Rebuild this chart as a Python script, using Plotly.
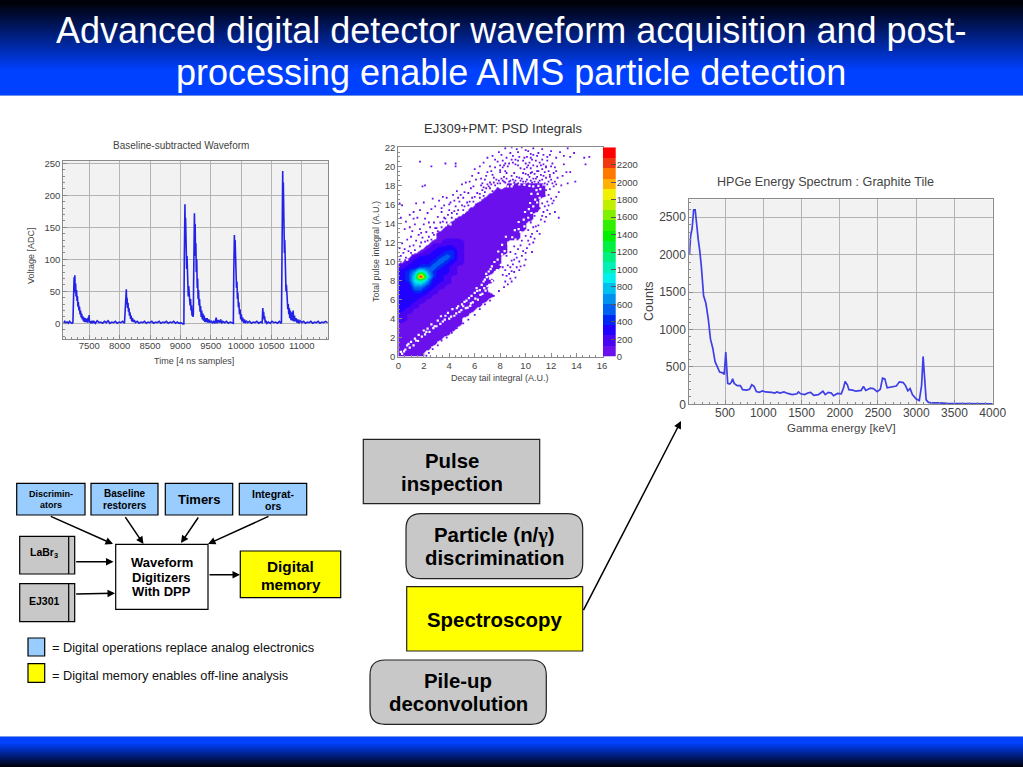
import plotly.graph_objects as go

W, H = 1023, 767
FONT = "Liberation Sans"

# ---------- Waveform data (time in samples, voltage in ADC) ----------
wave_t = [7075,7095,7115,7135,7155,7175,7195,7215,7230,7235,7240,7250,7258,7262,7268,7275,7282,7290,7298,7305,7313,7320,7330,7338,7348,7356,7366,7375,7385,7395,7405,7415,7425,7435,7445,7455,7470,7480,7490,7497,7503,7515,7530,7545,7560,7575,
          7600,7630,7660,7690,7720,7750,7780,7810,7840,7870,7900,7930,7960,7990,8020,8050,8080,8092,8098,8104,8110,8116,8122,8130,8138,8146,8154,8162,8170,8180,8190,8200,8212,8225,8240,8260,
          8290,8320,8350,8380,8410,8440,8470,8500,8530,8560,8590,8620,8650,8680,8710,8740,8770,8800,8830,8860,8890,8920,8950,8980,9010,9040,9058,9065,9070,9076,9080,9086,9092,9098,9104,9110,9118,9125,9130,9138,9145,9152,9160,9168,9176,9184,9192,9200,9208,9214,
          9218,9225,9232,9238,9244,9250,9256,9262,9270,9278,9285,9292,9300,9308,9316,9325,9333,9343,9352,9362,9372,9382,9392,9402,9412,9425,9440,9455,9470,9490,9510,9530,9550,9570,9590,9605,9625,9645,9665,9680,9700,9730,9760,9790,9820,9850,9873,
          9880,9885,9890,9895,9902,9910,9917,9925,9933,9940,9948,9956,9964,9974,9984,9994,10005,10016,10027,10040,10055,10070,10085,10110,10140,10170,10200,10230,10260,10290,10320,10348,10352,10358,10364,10372,10380,10388,10398,10410,10425,10450,10480,10510,10540,10570,10600,10630,10665,
          10675,10680,10686,10690,10696,10702,10708,10714,10720,10727,10733,10740,10747,10754,10762,10770,10778,10786,10794,10802,10812,10822,10834,10846,10858,10868,10880,10890,10905,10920,10935,10950,10970,11000,11030,11060,11090,11120,11150,11180,11210,11240,11270,11300,11330,11360,11390,11425]
wave_v = [1,3,0,2,0,3,1,0,1,30,60,72,55,75,48,62,42,52,35,42,26,33,20,26,14,20,9,15,6,11,3,9,2,8,2,7,1,9,3,13,1,3,0,4,1,3,
          0,4,1,2,0,3,1,4,0,2,1,3,0,2,1,3,0,25,40,30,53,30,40,24,32,18,24,12,17,7,12,3,8,2,5,1,
          3,0,2,1,3,0,2,1,3,0,2,1,3,0,2,1,3,0,2,1,3,0,2,0,1,-1,-1,100,170,186,140,165,120,140,85,105,70,90,42,58,40,50,28,38,20,28,12,18,10,14,
          60,130,172,130,155,105,125,80,100,55,70,38,52,28,38,18,27,10,20,6,15,4,12,2,8,2,8,1,6,1,4,0,3,0,9,0,5,1,6,0,3,1,3,0,2,1,0,
          80,130,138,115,130,95,105,55,65,38,48,25,33,14,22,6,14,3,9,1,6,0,4,1,3,0,2,1,3,0,2,1,10,24,12,18,6,11,1,4,0,2,0,3,1,2,0,3,0,
          100,200,238,190,220,150,178,110,130,90,100,50,60,35,45,22,30,14,24,8,20,5,17,4,20,3,12,3,8,1,6,0,4,1,3,0,2,1,3,0,2,1,3,0,2,1,3,1]

# ---------- HPGe spectrum (keV, counts) ----------
spec_e = [35,50,70,90,110,130,150,170,190,220,250,280,310,340,370,400,430,470,490,510,525,535,560,580,600,620,660,700,730,780,820,850,880,910,950,990,1030,1070,1110,1150,1180,1220,1270,1320,1380,1440,1460,1490,1540,1590,1620,1660,1720,1780,1810,1850,1890,1920,1970,2020,2050,2070,2100,2120,2170,2210,2280,2310,2340,2400,2440,2490,2530,2560,2590,2620,2680,2740,2780,2830,2860,2890,2920,2950,3000,3040,3070,3090,3110,3130,3160,3200,3300,3400,3600,3800,4000]
spec_c = [2000,2250,2350,2600,2600,2350,2200,2050,1850,1450,1350,1150,870,750,570,500,430,420,400,700,420,280,270,290,340,280,250,250,195,190,200,260,240,170,160,180,165,165,160,150,165,150,165,145,130,140,165,140,130,155,160,120,130,175,130,160,150,115,145,140,220,305,260,195,190,175,185,240,185,215,210,170,200,350,340,220,235,245,300,290,250,180,210,130,70,50,250,640,350,60,25,20,20,12,8,8,5]

# ---------- PSD density map: rows top to bottom, y = 22 ... 0 in steps of 0.5 ----------
psd_levels = {".":0,"p":100,"q":200,"b":270,"m":430,"n":570,"c":680,"t":880,"g":1100,"R":2450}
psd_rows = [
"","","","","","","","",
".................pppppp",
"...............pppppppp",
"..............ppppppppp",
".............ppppppppp",
"............pppppppppp",
"...........ppppppppppp",
"..........ppppppppppp",
".........pppppppppppp",
"........pppppppppppp",
".......ppppppppppppp",
"......ppppppppppppp",
"......ppppppppppppp",
".....ppqqqppppppp",
"....pqbbbqppppppp",
"...pqbbmmqppppppp",
"..qbbbmnmqpppppp",
".qbbbmnmbqpppppp",
"qbbmmnmbqppppppp",
"bmcgcmbbqpppppp",
"bmtRtmbqpppppp",
"bmtgcbbqppppppp",
"bbccmbqppppppp",
"bbmmbqpppppppp",
"bbbbqpppppppppp",
"bbbqpppppppppp",
"bbqpppppppppp",
"bqpppppppppp",
"qpppppppppp",
"qppppppppp",
"pppppppppp",
"ppppppppp",
"pppppppp",
"ppppppp",
"pppppp",
"ppppp",
"pppp",
"pppp",
]
psd_y = [22 - 0.5 * i for i in range(len(psd_rows))]
psd_x = [0.25 + 0.5 * i for i in range(33)]
psd_z = [[psd_levels[c] for c in r.ljust(33, ".")] for r in psd_rows]

speck_pts = [(0.1,10.2),(0.2,10.6),(0.4,10.9),(0.1,11.4),(0.5,11.3),(0.3,11.9),(0.8,11.1),(0.9,11.6),(0.7,12.3),(0.2,14.6),(0.1,16.1),(0.3,15.9),(0.5,13.4),(1.0,12.6),(1.2,11.7),(1.4,12.2),(1.1,13.2),(1.6,12.8),(1.3,13.9),(1.7,13.4),(1.9,12.5),(1.2,15.2),(1.4,16.1),(1.7,15.4),(1.5,14.6),(2.0,13.9),(2.2,13.1),(2.4,12.6),(2.1,14.5),(2.5,13.6),(2.7,13.0),(2.3,15.1),(2.8,14.1),(3.0,13.5),(2.0,16.2),(2.6,15.5),(3.1,14.7),(3.3,14.1),(3.5,14.2),(2.9,15.8),(3.4,15.2),(3.7,14.5),(3.9,14.9),(3.2,16.4),(3.6,15.9),(4.0,15.4),(4.2,15.1),(4.4,15.3),(3.8,16.7),(4.1,16.2),(4.5,15.8),(4.7,15.4),(4.3,17.0),(4.8,16.3),(5.0,15.9),(5.2,15.8),(4.6,17.4),(5.1,16.7),(5.4,16.2),(5.6,16.3),(5.0,18.1),(5.5,17.2),(5.8,16.7),(6.0,16.8),(5.3,18.3),(6.2,17.2),(5.9,17.9),(6.4,17.1),(6.6,17.5),(6.1,18.6),(6.5,18.0),(6.9,17.7),(7.1,17.9),(6.3,19.3),(6.8,18.6),(7.3,18.1),(7.5,18.3),(7.0,19.4),(7.7,18.6),(7.4,19.1),(7.9,18.5),(8.1,18.7),(6.7,20.4),(7.2,20.0),(7.6,19.9),(8.0,19.4),(8.3,18.9),(7.8,20.5),(8.2,19.9),(8.5,19.3),
(8.0,19.6),(8.3,20.1),(8.7,20.3),(9.2,20.2),(9.6,19.8),(9.8,19.3),(9.5,18.8),(9.0,18.6),(8.5,18.7),(8.6,20.0),(9.0,20.4),(9.4,20.1),(9.9,19.7),(10.0,19.2),(9.7,18.7),(9.2,18.5),(8.8,18.5),(8.2,18.5),(9.8,18.4),(10.1,18.6),(10.4,18.5),(10.7,18.4),(11.0,18.3),(10.2,19.1),(10.7,19.2),(11.2,19.1),(11.5,19.4),(10.4,19.8),(10.9,20.0),(11.4,20.2),(12.0,20.0),(10.3,20.4),(10.8,20.6),(11.3,20.7),(11.8,19.5),(12.3,19.9),(10.1,21.0),(10.6,21.2),(9.5,21.0),(9.0,21.1),(8.5,20.9),(8.1,21.2),(7.4,21.1),(7.9,21.5),
(8.4,21.9),(8.9,22.0),(9.3,21.8),(9.7,22.0),(10.2,21.6),(10.6,21.9),(11.0,21.4),(11.3,21.8),(11.9,21.2),(12.4,20.9),(12.1,20.3),(12.7,21.5),(13.3,21.9),(13.0,21.1),(13.5,21.0),(13.8,21.4),(14.6,20.9),(14.7,20.2),(15.0,21.0),(13.2,19.4),(13.5,19.4),(13.9,18.4),(13.0,20.2),(12.9,19.0),(12.5,18.8),(13.3,18.2),
(11.4,17.9),(11.7,18.1),(12.0,18.6),(11.9,17.6),(12.2,17.9),(11.5,16.9),(11.7,16.3),(12.0,16.6),(12.4,16.8),(11.3,17.2),(11.6,17.5),(11.8,17.0),(12.6,17.3),(12.8,18.0),(11.1,15.6),(11.4,15.2),(11.7,15.4),(11.9,15.0),(12.3,15.2),(12.6,14.6),(11.2,14.4),(11.0,13.8),(10.9,13.2),(10.5,12.9),(10.7,12.4),(10.3,11.8),(10.5,11.0),(10.0,10.9),(10.0,10.2),(9.7,10.6),(9.9,9.6),(9.5,10.0),(9.3,9.4),(9.5,9.1),(9.1,8.9),(8.9,9.0),(8.7,8.7),(9.2,8.3),(8.8,8.2),(8.5,8.5),(8.4,7.9),(8.2,8.6),(8.6,9.6),(8.9,10.1),(8.5,10.6),(8.8,11.0),(9.1,11.6),(9.2,10.8),(9.4,11.3),(9.7,12.2),(10.0,12.7),(10.2,13.3),(10.4,14.1),(10.7,14.8),(10.9,15.3),(11.3,16.1),(9.0,9.7),(9.6,11.7),(10.1,14.4),(10.6,13.6),
# dense fringe along the upper edge of the band and the top right cloud
(0.2,9.8),(0.6,10.4),(1.0,10.9),(1.3,11.2),(1.7,11.6),(2.1,12.1),(2.3,12.2),(2.8,12.8),(3.1,13.2),(3.4,13.6),(3.8,14.1),(4.2,14.6),(4.6,15.0),(5.1,15.4),(5.5,15.9),(5.9,16.3),(6.4,16.7),(6.8,17.3),(7.2,17.7),(7.6,18.0),(8.0,18.2),(8.4,18.3),
(1.8,12.0),(2.6,12.3),(3.3,13.0),(3.9,13.8),(4.5,14.4),(5.3,15.0),(5.7,15.5),(6.1,16.0),(6.7,16.9),(7.4,17.4),(7.8,17.7),(8.6,18.1),(9.4,18.2),(10.2,18.2),(10.8,18.1),(11.2,17.9),
(9.1,19.3),(8.4,19.5),(8.9,19.0),(9.3,18.9),(10.3,18.9),(10.6,18.7),(10.9,18.9),(11.3,18.6),(11.6,18.8),(10.5,19.4),(11.0,19.5),(11.3,19.7),(10.1,19.9),(10.6,20.1),(11.1,20.4),(11.6,20.0),(11.9,19.1),(12.2,19.3),(12.4,19.5),(9.2,20.7),(9.8,20.6),(10.0,20.3),(10.5,20.7),(10.9,21.1),(11.4,21.2),(11.7,20.6),(8.8,21.4),(9.4,21.5),(10.0,21.7),(10.4,21.3),(12.0,21.6),(7.6,20.7),(8.2,20.6),(7.0,20.9),(6.4,20.0),(5.8,19.0),(6.0,19.7),(5.6,18.4),(4.9,17.0),(4.4,16.4),(3.5,16.8),(2.7,16.6),(1.9,17.9),(2.1,18.0),(1.7,20.5),(2.6,20.0),(3.7,20.3),(4.5,20.3),(4.5,20.0),(0.9,14.9),(0.6,14.2),(0.9,13.6),(1.2,14.5),
(11.8,15.9),(12.1,16.1),(12.2,16.4),(11.5,15.8),(11.3,14.8),(11.6,14.7),(11.5,14.2),(11.1,12.9),(10.8,13.7),(10.6,12.0),(10.2,12.2),(10.4,12.6),(10.1,11.4),(9.8,11.1),(9.6,9.5),(9.3,10.4),(9.1,10.2),(8.8,9.4),(8.4,9.1),(8.2,9.4),(8.6,7.6),(8.9,7.9),(8.3,7.3),(7.9,6.9),(7.5,6.4),(7.2,5.9),(6.8,5.5),(6.4,5.0),(6.0,4.4),(5.5,3.9),(5.1,3.5),(4.6,3.0),(4.2,2.5),(3.8,2.0),(3.4,1.7),(3.1,1.2),(2.7,0.8),(2.4,0.4),(2.2,0.1),
(8.7,18.4),(9.1,18.3),(9.6,18.5),(10.0,18.4),(10.5,18.3),(11.1,18.5),(11.5,18.2),(8.3,18.4),(7.8,18.2),(7.2,18.3),(7.5,18.8),(6.6,18.2),(6.7,17.8),(7.0,18.1),(10.8,18.7),(11.4,19.0),(10.4,19.3),(10.9,19.5),(11.8,18.4),(12.1,18.2),(12.3,18.4),(11.9,18.9),(12.4,18.1),(11.6,19.9),(10.2,20.1),(9.9,20.9),(10.4,20.9),(11.2,20.1),(11.7,21.0),(9.4,20.6),(8.9,20.7),(8.4,20.3),(8.0,20.1),(7.3,19.5),(6.9,19.0),(6.5,18.7),(5.7,17.7),(5.2,17.3),(4.7,16.7),(4.0,16.0),(3.4,15.6),(2.4,14.1),(1.8,13.0),(2.9,13.5),(3.6,14.6)]
speck_x = [p[0] for p in speck_pts]
speck_y = [p[1] for p in speck_pts]

stripe_pts = [(0.3,0.3),(0.2,0.5),(0.55,0.75),(0.9,0.95),(1.0,1.55),(1.2,1.2),(1.3,1.9),(1.55,1.65),(1.6,2.3),(1.85,2.1),(2.0,2.75),(2.3,2.95),(2.45,2.6),(2.6,3.4),(2.85,3.2),(3.1,3.8),(3.3,3.45),(3.35,4.25),(3.65,3.9),(3.9,4.6),(4.15,4.2),(4.25,5.0),(4.55,4.55),(4.7,5.3),(4.95,4.9),(5.2,5.75),(5.45,5.15),(5.55,6.15),(5.85,5.7),(6.0,6.7),(6.25,6.0),(6.4,7.0),(6.55,7.55),(6.85,6.95),(6.95,8.35),(7.15,7.55),(7.35,7.95),(7.1,8.95),(7.55,8.5),(7.35,9.5),(7.75,9.1),(7.8,10.2),(7.55,9.95),(8.05,9.65),(8.15,10.75),(7.85,11.05),(8.35,11.1),(8.15,11.75),(8.65,11.85),(8.45,12.6),(8.95,12.55),(9.15,13.3),(9.45,13.4),(9.45,14.15),(9.85,14.4),(9.95,15.2),(10.25,15.5),(10.35,16.15),(10.75,16.5),(10.45,17.1),(10.85,17.5),(10.3,17.95),(9.9,18.05),(9.5,18.1),(9.0,18.1),(8.6,17.9),(8.2,18.0),
(4.4,4.3),(5.0,5.5),(5.7,5.6),(6.6,6.6),(7.6,7.4),(7.4,6.9),(7.1,7.1),(6.2,6.9),(6.7,7.9),(5.3,5.1),(3.0,3.2),(3.7,4.3),(2.2,2.6),(1.4,1.7),(0.7,1.2),(7.8,7.9),(8.05,7.15),(8.0,8.2),(7.3,8.4),(10.95,17.1),(11.15,17.6),(11.1,16.7),(10.9,16.2),(10.6,15.8),(10.45,15.1),(10.2,14.6),(9.9,13.7),(9.6,13.1),(9.2,12.3),(8.9,11.5),(11.4,18.0),(11.0,17.95),(10.6,17.9),(8.9,17.9),(8.1,17.7),(7.3,17.5),(6.3,16.45),(5.2,15.1),(4.1,13.9),(2.9,12.6),(1.6,11.2),(0.7,10.2),
(4.6,5.1),(4.8,4.7),(5.1,5.3),(5.35,5.9),(5.65,5.35),(5.75,6.4),(6.05,6.1),(6.15,7.2),(6.45,6.5),(6.75,7.2),(6.8,8.1),(7.0,7.4),(7.2,8.2),(7.45,7.7),(6.9,8.7),(7.25,9.2),(7.6,8.9),(7.5,7.2),(7.7,7.0),(7.85,7.5),(4.0,4.0),(3.5,3.7),(2.75,3.0),(2.1,2.35),(0.8,1.35),(0.45,0.55)]
stripe_x = [p[0] for p in stripe_pts]
stripe_y = [p[1] for p in stripe_pts]

band_edges = [0,120,240,360,480,600,720,840,960,1080,1200,1320,1440,1560,1680,1800,1920,2040,2160,2280,2400]
band_colors = ["#6a10ec","#4a04f4","#2000ff","#0028f4","#0060f0","#0090f0","#00c0f0","#00f0f0","#00f0b8","#00f080","#00f040","#00f000","#30f000","#80f000","#c0f000","#f0f000","#ffb000","#ff7800","#f03810","#ff0000"]
cbar_ticks = [0,200,400,600,800,1000,1200,1400,1600,1800,2000,2200]


def stepped(edges, colors, white_below=None):
    top = edges[-1]
    scale = []
    if white_below:
        scale += [[0, "#ffffff"], [white_below / top, "#ffffff"]]
    for i, c in enumerate(colors):
        lo = edges[i]
        if white_below and i == 0:
            lo = white_below
        scale += [[lo / top, c], [edges[i + 1] / top, c]]
    return scale


def px(x):
    return x / W


def py(y):
    return 1 - y / H


fig = go.Figure()

# ---- Traces ----
fig.add_trace(go.Scatter(x=wave_t, y=wave_v, mode="lines", line=dict(color="#2222e6", width=1.6), xaxis="x", yaxis="y", hoverinfo="skip", showlegend=False))
fig.add_trace(go.Heatmap(x=psd_x, y=psd_y, z=psd_z, zsmooth="best", zmin=0, zmax=2400, colorscale=stepped(band_edges, band_colors, white_below=50), showscale=False, xaxis="x2", yaxis="y2", hoverinfo="skip"))
fig.add_trace(go.Scatter(x=stripe_x, y=stripe_y, mode="markers", marker=dict(symbol="square", size=2.2, color="#ffffff"), xaxis="x2", yaxis="y2", hoverinfo="skip", showlegend=False))
fig.add_trace(go.Scatter(x=speck_x, y=speck_y, mode="markers", marker=dict(symbol="square", size=1.8, color="#6a10ec"), xaxis="x2", yaxis="y2", hoverinfo="skip", showlegend=False))
band_mid = [(band_edges[i] + band_edges[i + 1]) / 2 for i in range(len(band_colors))]
fig.add_trace(go.Heatmap(x=[0], y=band_mid, z=[[m] for m in band_mid], zmin=0, zmax=2400, colorscale=stepped(band_edges, band_colors), showscale=False, xaxis="x3", yaxis="y3", hoverinfo="skip"))
fig.add_trace(go.Scatter(x=spec_e, y=spec_c, mode="lines", line=dict(color="#3f3fe8", width=1.7), xaxis="x4", yaxis="y4", hoverinfo="skip", showlegend=False))

# ---- Axes ----
GRID = "#b4b4b4"
AX = "#8a8a8a"
TXT = "#444444"


def axis(domain, rng, dtick, size, grid=True, minor=None, **kw):
    d = dict(domain=domain, range=rng, dtick=dtick, tick0=0, tickformat="d", automargin=False, showline=True, mirror=True, linecolor=AX, linewidth=1,
             showgrid=grid, gridcolor=GRID, gridwidth=1, zeroline=False, ticks="inside", ticklen=4, tickcolor=AX,
             tickfont=dict(family=FONT, size=size, color=TXT), fixedrange=True)
    if minor:
        d["minor"] = dict(dtick=minor, tick0=0, ticks="inside", ticklen=2, tickcolor=AX, showgrid=False)
    d.update(kw)
    return d


fig.update_layout(
    template="none",
    width=W, height=H, margin=dict(l=0, r=0, t=0, b=0, pad=0, autoexpand=False), paper_bgcolor="#ffffff", plot_bgcolor="#f2f2f2", showlegend=False,
    xaxis=axis([px(63.3), px(328)], [7072, 11432], 500, 9.5, minor=100, anchor="y", ticklabelstandoff=-3),
    yaxis=axis([py(339.3), py(160.7)], [-25, 254], 50, 9.5, minor=10, anchor="x"),
    xaxis2=axis([px(398.3), px(602.7)], [0, 16.05], 2, 9.5, grid=False, minor=0.5, anchor="y2"),
    yaxis2=axis([py(356.7), py(147.3)], [0, 22], 2, 9.5, grid=False, minor=0.5, anchor="x2"),
    xaxis3=dict(domain=[px(603), px(615.7)], range=[-0.5, 0.5], visible=False, anchor="y3", fixedrange=True, automargin=False),
    yaxis3=dict(domain=[py(356.7), py(147.3)], range=[0, 2400], side="right", anchor="x3", tickmode="array", tickvals=cbar_ticks, automargin=False,
                ticks="inside", ticklen=5, tickcolor="#555555", showgrid=False, zeroline=False, showline=False,
                tickfont=dict(family=FONT, size=9.5, color=TXT), fixedrange=True),
    xaxis4=axis([px(689.3), px(992.7)], [33, 4000], 500, 12, minor=100, anchor="y4", ticklabelstandoff=-3),
    yaxis4=axis([py(404.3), py(199.3)], [0, 2740], 500, 12, minor=100, anchor="x4"),
)
# the PSD panel is white
fig.add_shape(type="rect", xref="paper", yref="paper", x0=px(398.3), x1=px(602.7), y0=py(356.7), y1=py(147.3), fillcolor="#ffffff", line_width=0, layer="below")

shapes = []
annots = []


def rect(x0, y0, x1, y1, fill, line="#000000", lw=1.2, layer="above"):
    shapes.append(dict(type="rect", xref="paper", yref="paper", x0=px(x0), x1=px(x1), y0=py(y1), y1=py(y0), fillcolor=fill, line=dict(color=line, width=lw), layer=layer))


def rrect(x0, y0, x1, y1, r, fill):
    P = lambda x, y: f"{px(x)},{py(y)}"
    path = (f"M {P(x0+r,y0)} L {P(x1-r,y0)} Q {P(x1,y0)} {P(x1,y0+r)} L {P(x1,y1-r)} Q {P(x1,y1)} {P(x1-r,y1)} "
            f"L {P(x0+r,y1)} Q {P(x0,y1)} {P(x0,y1-r)} L {P(x0,y0+r)} Q {P(x0,y0)} {P(x0+r,y0)} Z")
    shapes.append(dict(type="path", xref="paper", yref="paper", path=path, fillcolor=fill, line=dict(color="#222222", width=1.2)))


def text(x, y, s, size, color="#000000", bold=False, angle=0, anchor="center"):
    annots.append(dict(x=px(x), y=py(y), xref="paper", yref="paper", text=f"<b>{s}</b>" if bold else s, showarrow=False, xanchor=anchor, yanchor="middle",
                       font=dict(family=FONT, size=size, color=color), textangle=angle, align="center"))


def arrow(x0, y0, x1, y1, lw=1.5, size=1.0):
    annots.append(dict(x=px(x1), y=py(y1), xref="paper", yref="paper", axref="pixel", ayref="pixel", ax=x0 - x1, ay=y0 - y1, text="", showarrow=True,
                       arrowhead=2, arrowsize=size, arrowwidth=lw, arrowcolor="#000000"))


def lerp(c0, c1, t):
    return "rgb(%d,%d,%d)" % tuple(round(a + (b - a) * t) for a, b in zip(c0, c1))


def band(y0, y1, fill):
    shapes.append(dict(type="rect", xref="paper", yref="paper", x0=0, x1=1, y0=py(y1), y1=py(y0), fillcolor=fill, line_width=0))


# Header and footer gradients (each band overlaps the next so no seams show)
DARK = (0, 0, 8)
BLUE = (0, 64, 255)
for yy in range(0, 95, 2):
    band(yy, min(yy + 4, 96), lerp(DARK, BLUE, min(1, max(0, (yy - 2) / 68))))
band(95, 96, "#6f8fe0")
for yy in range(736, 767, 2):
    band(yy, min(yy + 4, 767), lerp(DARK, BLUE, min(1, max(0, (766 - yy) / 24))))
band(736, 737, "#7f9be4")

text(511, 31, "Advanced digital detector waveform acquisition and post-", 36, "#ffffff")
text(511, 72, "processing enable AIMS particle detection", 36, "#ffffff")

# Panel titles and axis titles
text(181, 146, "Baseline-subtracted Waveform", 10, TXT)
text(194, 361, "Time [4 ns samples]", 9, TXT)
text(31, 256, "Voltage [ADC]", 9, TXT, angle=-90)
text(503, 128, "EJ309+PMT: PSD Integrals", 13, "#333333")
text(500, 378, "Decay tail integral (A.U.)", 9, TXT)
text(376, 252, "Total pulse integral (A.U.)", 9, TXT, angle=-90)
text(825, 182, "HPGe Energy Spectrum : Graphite Tile", 12.6, TXT)
text(841, 428, "Gamma energy [keV]", 11.5, TXT)
text(649, 301, "Counts", 12.5, TXT, angle=-90)

# Left block diagram
BLUEBOX = "#99ccff"
GRAY = "#c8c8c8"
YEL = "#ffff00"
for x0, x1 in [(16.7, 85), (91, 158), (165.3, 232.7), (239.3, 306.7)]:
    rect(x0, 483.3, x1, 515, BLUEBOX)
text(51, 493.5, "Discrimin-", 9, bold=True)
text(51, 505, "ators", 9, bold=True)
text(124.5, 493, "Baseline", 10, bold=True)
text(124.5, 505.5, "restorers", 10, bold=True)
text(199, 499.5, "Timers", 13, bold=True)
text(273, 493.5, "Integrat-", 10.5, bold=True)
text(273, 505.5, "ors", 10.5, bold=True)
for y0, y1, label in [(536.3, 574, "LaBr<sub>3</sub>"), (583.7, 621.7, "EJ301")]:
    rect(19.7, y0, 74.7, y1, GRAY)
    shapes.append(dict(type="line", xref="paper", yref="paper", x0=px(68.7), x1=px(68.7), y0=py(y0), y1=py(y1), line=dict(color="#000000", width=1.2)))
    text(44, (y0 + y1) / 2 - 2, label, 10.5, bold=True)
rect(115.7, 544.3, 208, 609.3, "#ffffff")
text(161.5, 562.5, "Waveform", 13, bold=True)
text(161.5, 577, "Digitizers", 13, bold=True)
text(161.5, 591.5, "With DPP", 13, bold=True)
rect(240.3, 551, 340.7, 597.7, YEL)
text(290.5, 566, "Digital", 15.3, bold=True)
text(290.5, 584, "memory", 15.3, bold=True)
arrow(49.3, 515.7, 113, 544)
arrow(124.3, 515.7, 143.5, 544)
arrow(199.3, 516, 181, 543)
arrow(270, 515.7, 208, 544)
arrow(74.7, 561.7, 113.5, 561.7)
arrow(74.7, 594, 115, 593.3)
arrow(208, 574.7, 240, 574.7)

# Legend
rect(28, 638, 44.7, 656, BLUEBOX)
rect(28, 663.7, 44.7, 682.3, YEL)
text(50, 647, "= Digital operations replace analog electronics", 12.8, "#111111", anchor="left")
text(50, 675.5, "= Digital memory enables off-line analysis", 12.8, "#111111", anchor="left")

# Right column
rect(363.3, 439.3, 539.7, 503.7, GRAY, "#222222")
text(451.5, 461, "Pulse", 20.4, bold=True)
text(451.5, 484, "inspection", 20.4, bold=True)
rrect(406, 513.7, 582.7, 578.7, 15, GRAY)
text(494.5, 535, 'Particle (n/<span style="font-family:Liberation Serif">γ</span>)', 20.4, bold=True)
text(494.5, 558, "discrimination", 20.4, bold=True)
rect(406.7, 586.7, 582.7, 651, YEL, "#222222")
text(494.5, 620, "Spectroscopy", 20.4, bold=True)
rrect(370, 660, 546.3, 724.3, 15, GRAY)
text(458, 681, "Pile-up", 20.4, bold=True)
text(458, 704, "deconvolution", 20.4, bold=True)
arrow(582.7, 611.7, 681, 421)

for s in shapes:
    fig.add_shape(**s)
fig.update_layout(annotations=annots)

fig.write_html("out.html", config={"displayModeBar": False}, post_script="document.body.style.margin='0';document.body.style.overflow='hidden';")
